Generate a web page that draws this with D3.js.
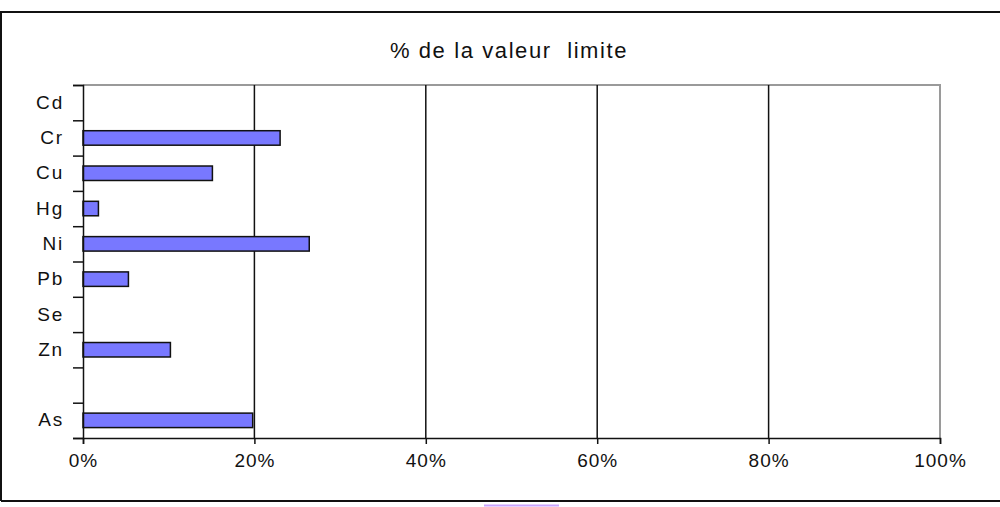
<!DOCTYPE html>
<html>
<head>
<meta charset="utf-8">
<script src="https://cdnjs.cloudflare.com/ajax/libs/d3/7.8.5/d3.min.js"></script>
<style>
	body { margin: 0; background: #fff; }
	text { font-family: 'Liberation Sans', Arial, sans-serif; fill: #111; }
</style>
</head>
<body>
<script>
// data
const elements = ['Cd', 'Cr', 'Cu', 'Hg', 'Ni', 'Pb', 'Se', 'Zn', '', 'As']
const pctLimit = [0, 23.0, 15.1, 1.8, 26.4, 5.3, 0, 10.2, null, 19.8]
const xTicks = [0, 20, 40, 60, 80, 100]
const title = '% de la valeur  limite'

const svgw = 1000
const svgh = 507
const padL = 83
const padR = 940
const padT = 85
const padB = 438

const svg = d3.select('body').append('svg').attr('width', svgw).attr('height', svgh)

// outer frame
svg.append('path')
	.attr('d', `M1,${svgh - 6} L1,12 L${svgw + 2},12 M1,${svgh - 6} L${svgw + 2},${svgh - 6}`)
	.attr('fill', 'none')
	.attr('stroke', '#111')
	.attr('stroke-width', 2)

// little mark below frame
svg.append('line')
	.attr('x1', 484).attr('x2', 559)
	.attr('y1', 505.5).attr('y2', 505.5)
	.attr('stroke', '#c9a3ff')
	.attr('stroke-width', 2)

svg.append('text')
	.attr('x', 509)
	.attr('y', 58)
	.attr('text-anchor', 'middle')
	.style('font-size', '22px')
	.style('letter-spacing', '1.6px')
	.style('white-space', 'pre')
	.text(title)

const xScale = d3.scaleLinear().domain([0, 100]).range([padL, padR])
const yScale = d3.scaleBand().domain(elements.map((d, i) => i)).range([padT, padB]).padding(0)

// plot border (grey top and right)
svg.append('path')
	.attr('d', `M${padL},${padT} L${padR},${padT} L${padR},${padB}`)
	.attr('fill', 'none')
	.attr('stroke', '#9a9a9a')
	.attr('stroke-width', 2)

// grid
svg.selectAll('.grid')
	.data(xTicks.filter(t => t > 0 && t < 100))
	.enter()
	.append('line')
	.attr('x1', d => xScale(d)).attr('x2', d => xScale(d))
	.attr('y1', padT).attr('y2', padB)
	.attr('stroke', '#111')
	.attr('stroke-width', 1.5)

// bars
const barH = yScale.bandwidth() * 0.41
svg.selectAll('rect.bar')
	.data(pctLimit.map((v, i) => ({ v, i })).filter(d => d.v > 0))
	.enter()
	.append('rect')
	.attr('class', 'bar')
	.attr('x', xScale(0))
	.attr('y', d => yScale(d.i) + (yScale.bandwidth() - barH) / 2)
	.attr('width', d => xScale(d.v) - xScale(0))
	.attr('height', barH)
	.attr('fill', '#7878ff')
	.attr('stroke', '#111')
	.attr('stroke-width', 1.5)

// y axis: labels at band centres, ticks at band edges
const yAxis = svg.append('g')
	.attr('transform', `translate(${padL},0)`)
	.call(d3.axisLeft(yScale).tickSize(0).tickPadding(19).tickFormat(i => elements[i]))
yAxis.select('.domain').remove()
yAxis.selectAll('text').style('font-size', '19px').style('letter-spacing', '1.8px')

const edges = d3.range(elements.length + 1)
const yEdge = d3.scaleLinear().domain([0, elements.length]).range([padT, padB])
svg.append('g')
	.attr('transform', `translate(${padL},0)`)
	.call(d3.axisLeft(yEdge).tickValues(edges).tickSize(10).tickFormat(''))
	.call(g => g.selectAll('line, path').attr('stroke', '#111').attr('stroke-width', 1.5))

// x axis
svg.append('g')
	.attr('transform', `translate(0,${padB})`)
	.call(d3.axisBottom(xScale).tickValues(xTicks).tickSize(6).tickPadding(10).tickFormat(d => d + '%'))
	.call(g => g.selectAll('line, path').attr('stroke', '#111').attr('stroke-width', 1.5))
	.call(g => g.selectAll('text').style('font-size', '19px').style('letter-spacing', '1px'))
</script>
</body>
</html>
